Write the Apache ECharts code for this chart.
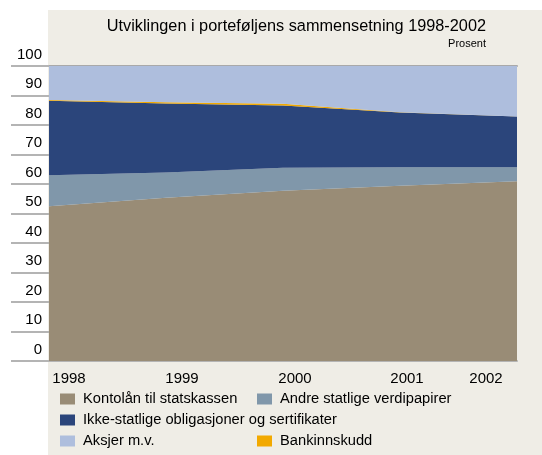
<!DOCTYPE html>
<html>
<head>
<meta charset="utf-8">
<script src="https://cdn.jsdelivr.net/npm/echarts@6/dist/echarts.min.js"></script>
<style>
html,body{margin:0;padding:0;background:#ffffff;}
#c{width:542px;height:455px;}
</style>
</head>
<body>
<div id="c"></div>
<script>
const years = ['1998', '1999', '2000', '2001', '2002'];
const kontolan = [52.5, 55.3, 57.7, 59.4, 60.9];
const andreStatlige = [10.5, 8.6, 7.8, 6.3, 4.8];
const ikkeStatlige = [25.2, 23.4, 21.1, 18.5, 17.2];
const bankinnskudd = [0.3, 0.4, 0.6, 0.1, 0.0];
const aksjer = [11.5, 12.3, 12.8, 15.7, 17.1];
const yTicks = [0, 10, 20, 30, 40, 50, 60, 70, 80, 90, 100];

const FONT = 'Liberation Sans';
const colors = {
  kontolan: '#998C76',
  andre: '#8097AA',
  ikke: '#2B457B',
  aksjer: '#AEBEDD',
  bank: '#F2A900'
};
const names = {
  kontolan: 'Kontolån til statskassen',
  andre: 'Andre statlige verdipapirer',
  ikke: 'Ikke-statlige obligasjoner og sertifikater',
  aksjer: 'Aksjer m.v.',
  bank: 'Bankinnskudd'
};

function areaSeries(key, data) {
  return {
    name: names[key], type: 'line', stack: 'total', data: data,
    symbol: 'none', lineStyle: { width: 0 }, itemStyle: { color: colors[key] },
    areaStyle: { color: colors[key], opacity: 1 }, z: 2
  };
}
function legendItem(key, left, top) {
  return {
    left: left, top: top, padding: 0, itemWidth: 15, itemHeight: 11, itemGap: 0,
    icon: 'rect', data: [names[key]],
    textStyle: { fontFamily: FONT, fontSize: 14.7, color: '#000', lineHeight: 16, padding: [0, 0, 0, 3] }
  };
}
// x label shifts (px) relative to data point
const xShift = [20, 16, 12, 7, -31];
const rich = {};
xShift.forEach((s, i) => {
  rich['l' + i] = {
    fontFamily: FONT, fontSize: 15, color: '#000',
    padding: s >= 0 ? [0, 0, 0, 2 * s] : [0, -2 * s, 0, 0]
  };
});

const chart = echarts.init(document.getElementById('c'), null, { renderer: 'canvas' });
chart.setOption({
  animation: false,
  backgroundColor: '#ffffff',
  graphic: [{
    type: 'rect', z: -10, silent: true,
    shape: { x: 48, y: 10, width: 494, height: 445 },
    style: { fill: '#EFEDE6' }
  }],
  title: [{
    text: 'Utviklingen i porteføljens sammensetning 1998-2002',
    right: 51, top: 14,
    textStyle: { fontFamily: FONT, fontSize: 16.3, fontWeight: 'normal', color: '#000' }
  }, {
    text: 'Prosent',
    right: 51, top: 33,
    textStyle: { fontFamily: FONT, fontSize: 11, fontWeight: 'normal', color: '#000' }
  }],
  grid: { left: 49, right: 25, top: 66, bottom: 94, containLabel: false },
  legend: [
    legendItem('kontolan', 60, 391),
    legendItem('andre', 257, 391),
    legendItem('ikke', 60, 412),
    legendItem('aksjer', 60, 433),
    legendItem('bank', 257, 433)
  ],
  xAxis: [{
    type: 'category', data: years, boundaryGap: false,
    axisLine: { show: true, lineStyle: { color: '#B4B4B4', width: 2 } },
    axisTick: { show: false },
    axisLabel: {
      margin: 10, interval: 0,
      formatter: (v, i) => '{l' + i + '|' + v + '}',
      rich: rich
    },
    splitLine: { show: false }
  }, {
    type: 'category', data: years, boundaryGap: false, position: 'top',
    axisLine: { show: true, lineStyle: { color: '#A9A9A9', width: 2 } },
    axisTick: { show: false }, axisLabel: { show: false }
  }],
  yAxis: {
    type: 'value', min: yTicks[0], max: yTicks[yTicks.length - 1], interval: 10,
    axisLine: { show: false },
    axisTick: { show: true, length: 38, lineStyle: { color: '#B4B4B4', width: 2 } },
    splitLine: { show: false },
    axisLabel: {
      margin: 7,
      formatter: v => '{v|' + v + '}',
      rich: { v: { fontFamily: FONT, fontSize: 15, color: '#000', padding: [0, 0, 23, 0] } }
    }
  },
  series: [
    areaSeries('kontolan', kontolan),
    areaSeries('andre', andreStatlige),
    areaSeries('ikke', ikkeStatlige),
    areaSeries('bank', bankinnskudd),
    areaSeries('aksjer', aksjer)
  ]
});
</script>
</body>
</html>
